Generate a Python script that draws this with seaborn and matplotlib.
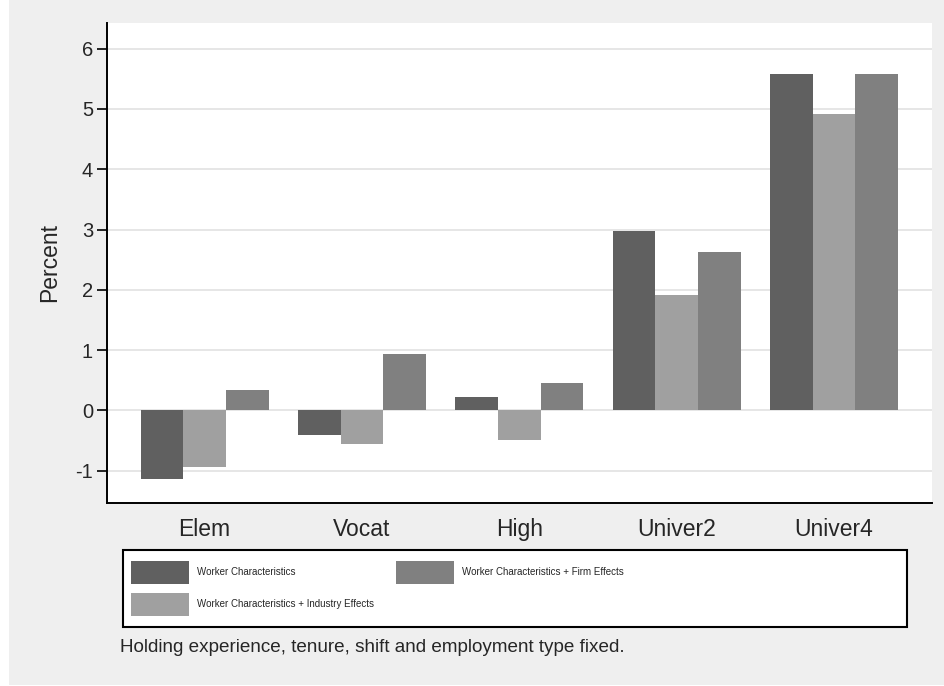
import matplotlib
matplotlib.use("Agg")
import matplotlib.pyplot as plt
import seaborn as sns
import pandas as pd
from matplotlib.patches import Rectangle
from matplotlib import font_manager

categories = ["Elem", "Vocat", "High", "Univer2", "Univer4"]
series_names = ["Worker Characteristics",
                "Worker Characteristics + Industry Effects",
                "Worker Characteristics + Firm Effects"]
worker = [-1.13, -0.41, 0.23, 2.98, 5.58]
industry = [-0.93, -0.56, -0.49, 1.92, 4.91]
firm = [0.34, 0.93, 0.45, 2.63, 5.58]
colors = ["#606060", "#a0a0a0", "#808080"]
yticks = [-1, 0, 1, 2, 3, 4, 5, 6]

rows = []
for name, vals in zip(series_names, [worker, industry, firm]):
    for c, v in zip(categories, vals):
        rows.append({"cat": c, "val": v, "series": name})
df = pd.DataFrame(rows)

sns.set_theme(style="white")
plt.rcParams["font.family"] = ["Liberation Sans", "DejaVu Sans"]

installed = {f.name for f in font_manager.fontManager.ttflist}
narrow = "Liberation Sans Narrow" if "Liberation Sans Narrow" in installed else "Liberation Sans"
leg_size = 8.5 if narrow == "Liberation Sans Narrow" else 7.0

W, H = 945, 686
fig = plt.figure(figsize=(9.45, 6.86), dpi=100, facecolor="white")
fig.patches.append(Rectangle((9 / W, 1 / H), 1 - 9 / W, 1 - 1 / H,
                             transform=fig.transFigure, facecolor="#efefef",
                             edgecolor="none", zorder=-10))
ax = fig.add_axes([107 / W, (H - 502.7) / H, (931.7 - 107) / W, (502.7 - 22.7) / H])
ax.set_facecolor("white")

sns.barplot(data=df, x="cat", y="val", hue="series", hue_order=series_names,
            order=categories, palette=colors, saturation=1, width=0.814,
            ax=ax, linewidth=0)

handles, labels = ax.get_legend_handles_labels()
if ax.get_legend() is not None:
    ax.get_legend().remove()

ax.set_xlim(-0.62, 4.62)
ax.set_ylim(-1.53, 6.43)
ax.set_yticks(yticks)
ax.set_yticklabels([str(t) for t in yticks])
ax.yaxis.grid(True, color="#e6e6e6", linewidth=1.4)
ax.set_axisbelow(True)
for s in ["top", "right"]:
    ax.spines[s].set_visible(False)
for s in ["left", "bottom"]:
    ax.spines[s].set_color("black")
    ax.spines[s].set_linewidth(1.4)
ax.tick_params(axis="y", direction="out", length=7, width=1.2, color="black",
               labelsize=14.5, pad=3, left=True)
ax.tick_params(axis="x", length=0, labelsize=16.5, pad=11)
ax.set_xlabel("")
ax.set_ylabel("Percent", fontsize=16.5, labelpad=10)

# legend box
fig.patches.append(Rectangle((123 / W, (H - 626.7) / H), (906.7 - 123) / W, (626.7 - 550) / H,
                             transform=fig.transFigure, facecolor="white",
                             edgecolor="black", linewidth=1.5, zorder=1))

# measure widest first-column label to place second column at x=396px
fig.canvas.draw()
renderer = fig.canvas.get_renderer()
tmp = fig.text(0, 0, series_names[1], fontsize=leg_size, family=[narrow, "DejaVu Sans"])
tw = tmp.get_window_extent(renderer).width
tmp.remove()
handle_len_pt = 58 * 72 / 100
pad_pt = 8 * 72 / 100
col1_right_px = 130.7 + (handle_len_pt + pad_pt) * 100 / 72 + tw
colspace_pt = max((396 - col1_right_px) * 72 / 100, 1.0)

patch_h_pt = 23 * 72 / 100
hh = (patch_h_pt / leg_size - 0.245) / 0.65

leg = fig.legend(handles, labels, ncol=2, loc="upper left",
                 bbox_to_anchor=(130.7 / W, (H - 561) / H),
                 bbox_transform=fig.transFigure,
                 prop={"family": [narrow, "DejaVu Sans"], "size": leg_size},
                 frameon=False,
                 handlelength=handle_len_pt / leg_size,
                 handleheight=hh,
                 handletextpad=pad_pt / leg_size,
                 columnspacing=colspace_pt / leg_size,
                 labelspacing=(9 * 72 / 100) / leg_size,
                 borderpad=0, borderaxespad=0)
leg.set_zorder(2)

fig.text(120 / W, (H - 648) / H,
         "Holding experience, tenure, shift and employment type fixed.",
         fontsize=13.6, va="center", ha="left")

fig.savefig("out.png", dpi=100, facecolor=fig.get_facecolor())
